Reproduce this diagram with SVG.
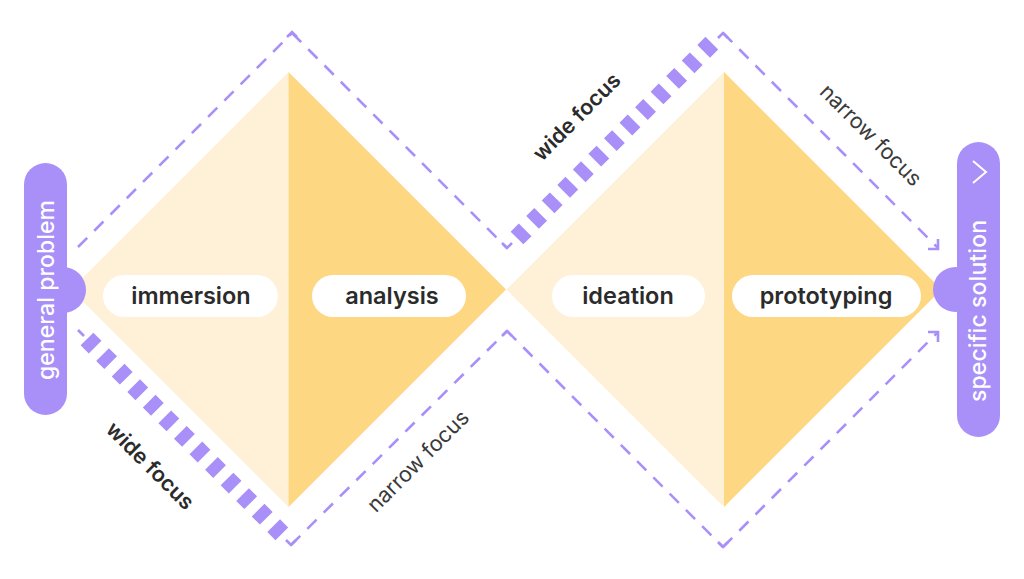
<svg xmlns="http://www.w3.org/2000/svg" width="1024" height="579" viewBox="0 0 1024 579">
<style>
.light{fill:#FEF1D7}
.dark{fill:#FDD782}
.thin{fill:none;stroke:#A98FF8;stroke-width:2.6;stroke-dasharray:13 10}
.corner{fill:none;stroke:#A98FF8;stroke-width:2.6}
.thick{fill:none;stroke:#A98FF8;stroke-width:18;stroke-dasharray:11.5 10.5}
.pill{fill:#A98FF8}
.box{fill:#FFFFFF}
.lbl{font-family:Inter,"Liberation Sans",sans-serif;font-weight:600;font-size:23.5px;fill:#2B2B2B;text-anchor:middle}
.ptxt{font-family:Inter,"Liberation Sans",sans-serif;font-weight:500;font-size:23px;fill:#FFFFFF;text-anchor:middle}
.wide{font-family:Inter,"Liberation Sans",sans-serif;font-weight:600;font-size:21.5px;fill:#2B2B2B;text-anchor:middle}
.narrow{font-family:Inter,"Liberation Sans",sans-serif;font-weight:400;font-size:21.5px;fill:#3A3A3A;text-anchor:middle}
</style>
<rect width="1024" height="579" fill="#FFFFFF"/>
<g id="diamonds">
  <polygon class="light" points="71,289.5 288.5,72 288.5,507"/>
  <polygon class="dark" points="288.5,72 506,289.5 288.5,507"/>
  <polygon class="light" points="506.5,289.5 724,72 724,507"/>
  <polygon class="dark" points="724,72 941.5,289.5 724,507"/>
</g>
<g id="connectors">
  <line class="thin" x1="78" y1="247" x2="292" y2="33"/>
  <line class="thin" x1="292" y1="33" x2="507" y2="248"/>
  <line class="thick" x1="517" y1="238" x2="714" y2="41"/>
  <line class="thin" x1="723" y1="33" x2="938" y2="248"/>
  <polyline class="corner" points="938,239 938,249 928,249"/>
  <line class="thin" x1="78" y1="330" x2="84" y2="336"/>
  <line class="thick" x1="87" y1="339" x2="284" y2="536"/>
  <line class="thin" x1="291" y1="545" x2="507" y2="331"/>
  <line class="thin" x1="507" y1="331" x2="723" y2="547"/>
  <line class="thin" x1="723" y1="547" x2="938" y2="332"/>
  <polyline class="corner" points="928,332 938,332 938,342"/>
  <polyline class="corner" points="287,37 292,32 297,37"/>
  <polyline class="corner" points="502,243 507,248 512,243"/>
  <polyline class="corner" points="718,38 723,33 728,38"/>
  <polyline class="corner" points="286,540 291,545 296,540"/>
  <polyline class="corner" points="502,336 507,331 512,336"/>
  <polyline class="corner" points="718,542 723,547 728,542"/>
</g>
<g id="general-problem">
  <rect class="pill" x="24" y="163" width="43" height="252" rx="21.5"/>
  <circle class="pill" cx="63" cy="290" r="23"/>
  <text class="ptxt" transform="translate(54,290) rotate(-90)" x="0" y="0" textLength="180" lengthAdjust="spacing">general problem</text>
</g>
<g id="specific-solution">
  <rect class="pill" x="957" y="142" width="43" height="295" rx="21.5"/>
  <circle class="pill" cx="955.5" cy="289.5" r="22.5"/>
  <polyline points="973,161 986,172 973,183" fill="none" stroke="#FFFFFF" stroke-width="2"/>
  <text class="ptxt" transform="translate(986,311) rotate(-90)" x="0" y="0" textLength="182" lengthAdjust="spacing">specific solution</text>
</g>
<g id="immersion">
  <rect class="box" x="103" y="275" width="175" height="42" rx="21"/>
  <text class="lbl" x="191" y="304">immersion</text>
</g>
<g id="analysis">
  <rect class="box" x="312" y="275" width="154" height="42" rx="21"/>
  <text class="lbl" x="392" y="304">analysis</text>
</g>
<g id="ideation">
  <rect class="box" x="552" y="275" width="153" height="42" rx="21"/>
  <text class="lbl" x="628" y="304">ideation</text>
</g>
<g id="prototyping">
  <rect class="box" x="732" y="275" width="189" height="42" rx="21"/>
  <text class="lbl" x="826" y="304">prototyping</text>
</g>
<g id="focus-labels">
  <text class="wide" transform="translate(150,466) rotate(45)" y="7">wide focus</text>
  <text class="wide" transform="translate(577,117) rotate(-45)" y="7">wide focus</text>
  <text class="narrow" transform="translate(870,136) rotate(45)" y="6">narrow focus</text>
  <text class="narrow" transform="translate(419,462) rotate(-45)" y="6">narrow focus</text>
</g>
</svg>
